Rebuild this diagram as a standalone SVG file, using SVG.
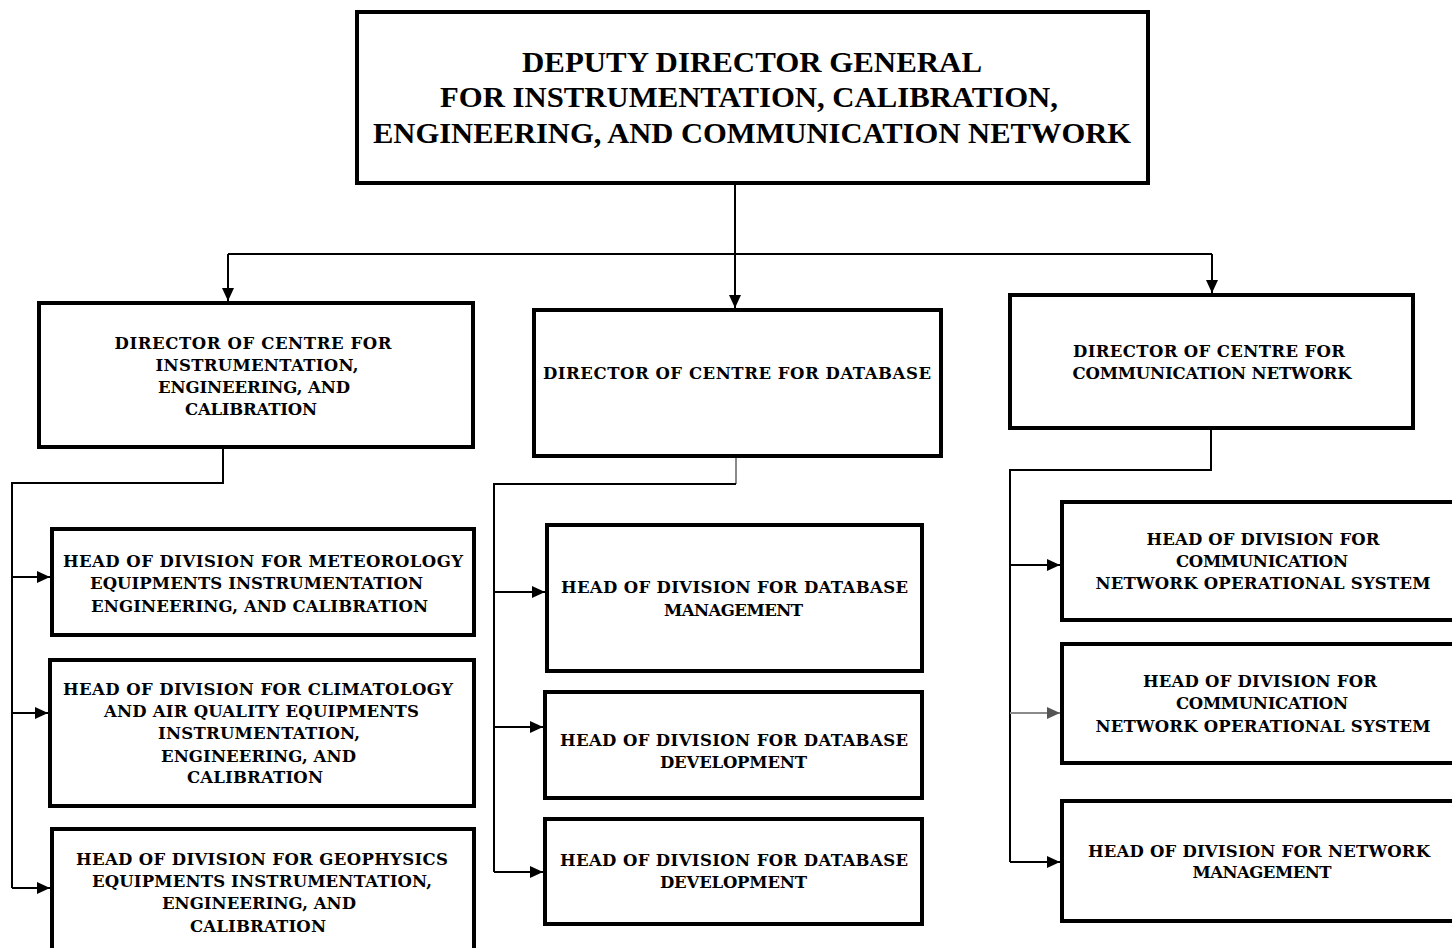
<svg xmlns="http://www.w3.org/2000/svg" width="1452" height="948" viewBox="0 0 1452 948">
<style>
.bg{fill:#fff}
.box{fill:#fff;stroke:#000;stroke-width:4}
.t{font-family:"DejaVu Serif",serif;font-weight:bold;font-size:16.5px;text-anchor:middle;fill:#000}
.d{font-size:16.5px}
.tt{font-family:"Liberation Serif",serif;font-weight:bold;font-size:30px;text-anchor:middle;fill:#000}
.ln{fill:none;stroke:#000;stroke-width:2}
.faint{stroke:#8a8a8a}
</style>
<defs>
<marker id="ah" markerUnits="userSpaceOnUse" markerWidth="13" markerHeight="12" refX="13" refY="6" orient="auto">
<path d="M0,0 L13,6 L0,12 Z" fill="#000"/>
</marker>
<marker id="ahg" markerUnits="userSpaceOnUse" markerWidth="13" markerHeight="12" refX="13" refY="6" orient="auto">
<path d="M0,0 L13,6 L0,12 Z" fill="#555"/>
</marker>
</defs>
<rect class="bg" x="0" y="0" width="1452" height="948"/>

<g id="connectors">
<path class="ln" d="M735,185 V308" marker-end="url(#ah)"/>
<path class="ln" d="M228,254 H1212"/>
<path class="ln" d="M228,254 V301" marker-end="url(#ah)"/>
<path class="ln" d="M1212,254 V293" marker-end="url(#ah)"/>
<path class="ln" d="M223,449 V483 H12 V888"/>
<path class="ln" d="M12,577 H50" marker-end="url(#ah)"/>
<path class="ln" d="M12,713 H48" marker-end="url(#ah)"/>
<path class="ln" d="M12,888 H50" marker-end="url(#ah)"/>
<path class="ln faint" d="M736,458 V484"/>
<path class="ln" d="M736,484 H494 V872"/>
<path class="ln" d="M494,592 H545" marker-end="url(#ah)"/>
<path class="ln" d="M494,727 H543" marker-end="url(#ah)"/>
<path class="ln" d="M494,872 H543" marker-end="url(#ah)"/>
<path class="ln" d="M1211,430 V470 H1010 V862"/>
<path class="ln" d="M1010,565 H1060" marker-end="url(#ah)"/>
<path class="ln faint" d="M1010,713 H1060" marker-end="url(#ahg)"/>
<path class="ln" d="M1010,862 H1060" marker-end="url(#ah)"/>
</g>

<g id="deputy-director-general">
<rect class="box" x="357" y="12" width="791" height="171"/>
<text class="tt" x="752" y="72" textLength="460" lengthAdjust="spacingAndGlyphs">DEPUTY DIRECTOR GENERAL</text>
<text class="tt" x="749" y="107" textLength="618" lengthAdjust="spacingAndGlyphs">FOR INSTRUMENTATION, CALIBRATION,</text>
<text class="tt" x="752" y="143" textLength="758" lengthAdjust="spacingAndGlyphs">ENGINEERING, AND COMMUNICATION NETWORK</text>
</g>

<g id="director-instrumentation">
<rect class="box" x="39" y="303" width="434" height="144"/>
<text class="t d" x="253" y="349" textLength="277" lengthAdjust="spacing">DIRECTOR OF CENTRE FOR</text>
<text class="t d" x="257" y="371" textLength="203" lengthAdjust="spacing">INSTRUMENTATION,</text>
<text class="t d" x="254" y="393" textLength="192" lengthAdjust="spacing">ENGINEERING, AND</text>
<text class="t d" x="251" y="415" textLength="132" lengthAdjust="spacing">CALIBRATION</text>
</g>

<g id="director-database">
<rect class="box" x="534" y="310" width="407" height="146"/>
<text class="t d" x="737" y="379" textLength="388" lengthAdjust="spacing">DIRECTOR OF CENTRE FOR DATABASE</text>
</g>

<g id="director-communication">
<rect class="box" x="1010" y="295" width="403" height="133"/>
<text class="t d" x="1209" y="357" textLength="272" lengthAdjust="spacing">DIRECTOR OF CENTRE FOR</text>
<text class="t d" x="1212" y="379" textLength="279" lengthAdjust="spacing">COMMUNICATION NETWORK</text>
</g>

<g id="head-meteorology">
<rect class="box" x="52" y="529" width="422" height="106"/>
<text class="t" x="263" y="567" textLength="400" lengthAdjust="spacing">HEAD OF DIVISION FOR METEOROLOGY</text>
<text class="t" x="256.5" y="589" textLength="333" lengthAdjust="spacing">EQUIPMENTS INSTRUMENTATION</text>
<text class="t" x="259.5" y="612" textLength="337" lengthAdjust="spacing">ENGINEERING, AND CALIBRATION</text>
</g>

<g id="head-climatology">
<rect class="box" x="50" y="660" width="424" height="146"/>
<text class="t" x="258" y="695" textLength="390" lengthAdjust="spacing">HEAD OF DIVISION FOR CLIMATOLOGY</text>
<text class="t" x="261.5" y="717" textLength="315" lengthAdjust="spacing">AND AIR QUALITY EQUIPMENTS</text>
<text class="t" x="259" y="739" textLength="202" lengthAdjust="spacing">INSTRUMENTATION,</text>
<text class="t" x="258.5" y="762" textLength="195" lengthAdjust="spacing">ENGINEERING, AND</text>
<text class="t" x="255" y="783" textLength="136" lengthAdjust="spacing">CALIBRATION</text>
</g>

<g id="head-geophysics">
<rect class="box" x="52" y="829" width="422" height="140"/>
<text class="t" x="262" y="865" textLength="372" lengthAdjust="spacing">HEAD OF DIVISION FOR GEOPHYSICS</text>
<text class="t" x="262" y="887" textLength="340" lengthAdjust="spacing">EQUIPMENTS INSTRUMENTATION,</text>
<text class="t" x="259" y="909" textLength="194" lengthAdjust="spacing">ENGINEERING, AND</text>
<text class="t" x="258" y="932" textLength="136" lengthAdjust="spacing">CALIBRATION</text>
</g>

<g id="head-database-management">
<rect class="box" x="547" y="525" width="375" height="146"/>
<text class="t" x="734.5" y="593" textLength="347" lengthAdjust="spacing">HEAD OF DIVISION FOR DATABASE</text>
<text class="t" x="733.5" y="616" textLength="139" lengthAdjust="spacing">MANAGEMENT</text>
</g>

<g id="head-database-development-1">
<rect class="box" x="545" y="692" width="377" height="106"/>
<text class="t" x="734" y="746" textLength="348" lengthAdjust="spacing">HEAD OF DIVISION FOR DATABASE</text>
<text class="t" x="733.5" y="768" textLength="147" lengthAdjust="spacing">DEVELOPMENT</text>
</g>

<g id="head-database-development-2">
<rect class="box" x="545" y="819" width="377" height="105"/>
<text class="t" x="734" y="866" textLength="348" lengthAdjust="spacing">HEAD OF DIVISION FOR DATABASE</text>
<text class="t" x="733.5" y="888" textLength="147" lengthAdjust="spacing">DEVELOPMENT</text>
</g>

<g id="head-communication-operational-1">
<rect class="box" x="1062" y="502" width="400" height="118"/>
<text class="t" x="1263" y="545" textLength="233" lengthAdjust="spacing">HEAD OF DIVISION FOR</text>
<text class="t" x="1262" y="567" textLength="172" lengthAdjust="spacing">COMMUNICATION</text>
<text class="t" x="1263" y="589" textLength="335" lengthAdjust="spacing">NETWORK OPERATIONAL SYSTEM</text>
</g>

<g id="head-communication-operational-2">
<rect class="box" x="1062" y="644" width="400" height="119"/>
<text class="t" x="1260" y="687" textLength="234" lengthAdjust="spacing">HEAD OF DIVISION FOR</text>
<text class="t" x="1262" y="709" textLength="172" lengthAdjust="spacing">COMMUNICATION</text>
<text class="t" x="1263" y="732" textLength="335" lengthAdjust="spacing">NETWORK OPERATIONAL SYSTEM</text>
</g>

<g id="head-network-management">
<rect class="box" x="1062" y="801" width="400" height="120"/>
<text class="t" x="1259" y="857" textLength="342" lengthAdjust="spacing">HEAD OF DIVISION FOR NETWORK</text>
<text class="t" x="1262" y="878" textLength="139" lengthAdjust="spacing">MANAGEMENT</text>
</g>
</svg>
